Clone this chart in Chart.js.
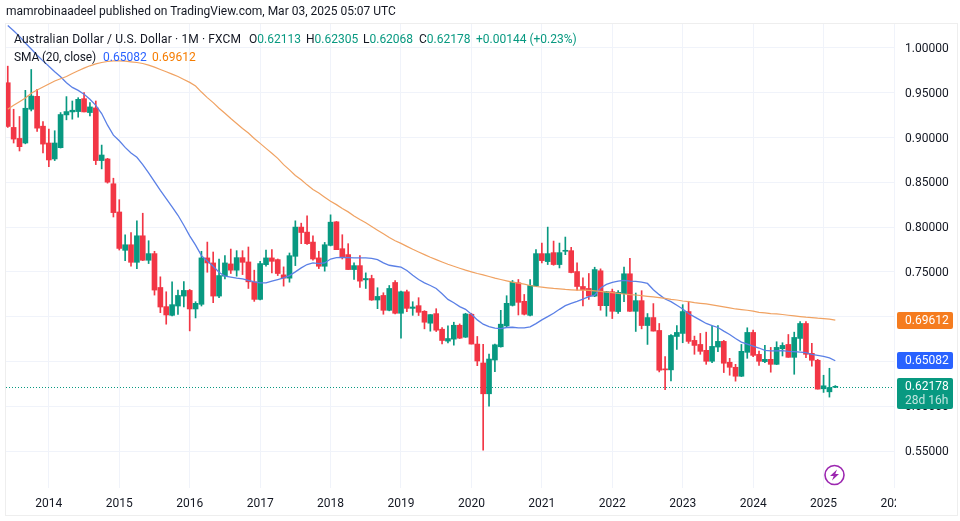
<!DOCTYPE html>
<html>
<head>
<meta charset="utf-8">
<title>AUD/USD monthly</title>
<script src="https://cdn.jsdelivr.net/npm/chart.js@4/dist/chart.umd.min.js"></script>
<style>
  html, body { margin: 0; padding: 0; background: #fff; }
  #wrap { position: relative; width: 960px; height: 521px; overflow: hidden; font-family: Roboto, sans-serif; font-size: 12px; color: #131722; }
  canvas { position: absolute; left: 0; top: 0; }
  .txt { position: absolute; white-space: pre; line-height: 16px; }
  .g { color: #089981; }
  .b { color: #2962ff; }
  .o { color: #f57c00; }
</style>
</head>
<body>
<div id="wrap">
  <canvas id="chart" width="960" height="521"></canvas>
  <div class="txt" style="left:6px;top:3px">mamrobinaadeel published on TradingView.com, Mar 03, 2025 05:07 UTC</div>
  <div class="txt" style="left:14px;top:31px;letter-spacing:.12px">Australian Dollar / U.S. Dollar · 1M · FXCM</div>
  <div class="txt" style="left:249px;top:31px">O<span class="g">0.62113</span></div>
  <div class="txt" style="left:306px;top:31px">H<span class="g">0.62305</span></div>
  <div class="txt" style="left:363px;top:31px">L<span class="g">0.62068</span></div>
  <div class="txt" style="left:419px;top:31px">C<span class="g">0.62178</span></div>
  <div class="txt g" style="left:476px;top:31px">+0.00144 (+0.23%)</div>
  <div class="txt" style="left:14px;top:49px;letter-spacing:-.15px">SMA (20, close)</div>
  <div class="txt b" style="left:103px;top:49px">0.65082</div>
  <div class="txt o" style="left:152px;top:49px">0.69612</div>
</div>
<script>
// monthly candles, Jun 2013 -> Mar 2025
const opens = [
  .9612,.9113,.8990,.8939,.9316,.9460,.9127,.8939,.8761,.8887,
  .9253,.9286,.9290,.9434,.9279,.9331,.8743,.8761,.8484,.8169,
  .7741,.7803,.7607,.7903,.7630,.7704,.7326,.7112,.7015,.7119,
  .7230,.7293,.7086,.7138,.7656,.7600,.7230,.7452,.7589,.7519,
  .7659,.7611,.7389,.7193,.7581,.7656,.7637,.7467,.7430,.7674,
  .8000,.7944,.7833,.7656,.7563,.7796,.8059,.7759,.7693,.7526,
  .7570,.7411,.7426,.7186,.7237,.7071,.7382,.7038,.7278,.7093,
  .7123,.7060,.6927,.7034,.6860,.6727,.6749,.6904,.6771,.7027,
  .6694,.6483,.6139,.6516,.6664,.6897,.7126,.7378,.7171,.7015,
  .7341,.7704,.7615,.7715,.7582,.7730,.7737,.7504,.7337,.7315,
  .7230,.7512,.7123,.7279,.7057,.7257,.7479,.7060,.7179,.6901,
  .6990,.6846,.6413,.6406,.6779,.6813,.7057,.6735,.6690,.6624,
  .6502,.6661,.6724,.6491,.6435,.6335,.6602,.6824,.6579,.6498,
  .6524,.6468,.6642,.6690,.6546,.6757,.6924,.6591,.6513,.6195,
  .6161,.62113
];
const highs = [
  .9797,.9316,.9235,.9527,.9760,.9538,.9179,.9094,.9076,.9279,
  .9457,.9408,.9445,.9501,.9390,.9408,.8916,.8768,.8546,.8306,
  .7914,.7940,.8070,.8155,.7848,.7730,.7445,.7278,.7389,.7297,
  .7393,.7304,.7167,.7730,.7833,.7722,.7644,.7681,.7755,.7737,
  .7737,.7778,.7519,.7618,.7744,.7748,.7644,.7556,.7711,.8070,
  .8044,.8125,.7903,.7730,.7829,.8137,.8063,.7915,.7815,.7600,
  .7681,.7489,.7463,.7323,.7267,.7348,.7404,.7285,.7297,.7167,
  .7212,.7067,.7023,.7089,.6878,.6897,.6938,.6919,.7038,.7038,
  .6779,.6690,.6582,.6693,.7071,.7234,.7404,.7415,.7248,.7415,
  .7748,.7822,.8000,.7844,.7822,.7889,.7774,.7600,.7433,.7482,
  .7552,.7534,.7283,.7308,.7290,.7553,.7652,.7264,.7290,.7035,
  .7146,.6924,.6554,.6801,.6901,.7134,.7172,.6783,.6813,.6827,
  .6894,.6901,.6735,.6535,.6468,.6690,.6876,.6850,.6616,.6679,
  .6657,.6720,.6709,.6801,.6827,.6946,.6946,.6702,.6524,.6346,
  .6424,.62305
];
const lows = [
  .9113,.8939,.8850,.8930,.9297,.9068,.8828,.8676,.8743,.8883,
  .9198,.9205,.9227,.9286,.9242,.8698,.8650,.8491,.8113,.7744,
  .7626,.7563,.7537,.7626,.7593,.7241,.7045,.6916,.7008,.7026,
  .7108,.6841,.6986,.7119,.7496,.7156,.7211,.7422,.7482,.7452,
  .7470,.7315,.7171,.7186,.7563,.7489,.7459,.7341,.7385,.7570,
  .7815,.7807,.7630,.7537,.7508,.7790,.7748,.7644,.7526,.7415,
  .7326,.7315,.7182,.7089,.7027,.7065,.7030,.6760,.7056,.7015,
  .7013,.6864,.6838,.6834,.6697,.6708,.6682,.6756,.6768,.6694,
  .6453,.5510,.6000,.6386,.6660,.6879,.7119,.7019,.7019,.7008,
  .7335,.7600,.7582,.7574,.7544,.7692,.7489,.7297,.7119,.7193,
  .7223,.7072,.7005,.6979,.7035,.7168,.7060,.6835,.6864,.6690,
  .6839,.6383,.6184,.6283,.6635,.6709,.6702,.6580,.6580,.6468,
  .6487,.6609,.6376,.6346,.6280,.6331,.6535,.6554,.6457,.6487,
  .6380,.6465,.6561,.6546,.6357,.6624,.6543,.6446,.6191,.6154,
  .6102,.62068
];
const closes = [
  .9124,.8983,.8898,.9327,.9464,.9105,.8927,.8750,.8939,.9257,
  .9290,.9305,.9427,.9286,.9342,.8743,.8805,.8502,.8162,.7762,
  .7803,.7607,.7903,.7630,.7704,.7297,.7108,.7019,.7134,.7237,
  .7293,.7086,.7149,.7656,.7600,.7230,.7459,.7600,.7519,.7659,
  .7607,.7389,.7193,.7593,.7656,.7618,.7482,.7430,.7681,.8000,
  .7940,.7815,.7644,.7563,.7803,.8055,.7748,.7667,.7526,.7570,
  .7397,.7426,.7186,.7226,.7071,.7315,.7038,.7278,.7093,.7108,
  .7049,.6938,.7023,.6849,.6734,.6756,.6904,.6760,.7030,.6694,
  .6505,.6139,.6527,.6686,.6916,.7149,.7385,.7160,.7027,.7348,
  .7704,.7626,.7704,.7582,.7715,.7741,.7493,.7337,.7300,.7230,
  .7526,.7123,.7279,.7060,.7271,.7479,.7060,.7179,.6901,.6990,
  .6839,.6402,.6406,.6790,.6824,.7057,.6724,.6679,.6613,.6502,
  .6668,.6724,.6480,.6435,.6335,.6613,.6824,.6568,.6502,.6524,
  .6468,.6657,.6679,.6546,.6768,.6924,.6580,.6513,.6191,.6228,
  .6209,.62178
];
// the two moving averages
const smaBlue = [
  1.0252,1.0193,1.0130,1.0056,.9989,.9919,.9856,.9797,.9734,.9679,
  .9612,.9560,.9527,.9483,.9427,.9360,.9268,.9138,.9027,.8964,
  .8890,.8828,.8779,.8698,.8606,.8509,.8410,.8317,.8225,.8132,
  .8021,.7903,.7799,.7681,.7622,.7563,.7496,.7452,.7441,.7430,
  .7422,.7404,.7389,.7378,.7378,.7397,.7415,.7433,.7459,.7500,
  .7545,.7582,.7600,.7593,.7600,.7644,.7659,.7663,.7659,.7656,
  .7656,.7656,.7652,.7637,.7600,.7574,.7563,.7552,.7515,.7463,
  .7415,.7378,.7348,.7315,.7256,.7193,.7156,.7112,.7082,.7026,
  .6964,.6916,.6890,.6871,.6867,.6879,.6882,.6875,.6875,.6886,
  .6923,.6964,.7001,.7038,.7082,.7123,.7149,.7171,.7197,.7223,
  .7241,.7320,.7360,.7382,.7397,.7405,.7397,.7394,.7386,.7371,
  .7301,.7246,.7197,.7168,.7127,.7086,.7035,.6998,.6961,.6924,
  .6901,.6879,.6839,.6801,.6757,.6716,.6694,.6672,.6650,.6624,
  .6617,.6617,.6620,.6613,.6609,.6605,.6598,.6580,.6568,.6557,
  .6539,.65082
];
const smaOrange = [
  .9316,.9360,.9401,.9442,.9494,.9531,.9564,.9597,.9631,.9656,
  .9682,.9716,.9745,.9775,.9801,.9823,.9838,.9849,.9856,.9856,
  .9853,.9845,.9838,.9827,.9808,.9786,.9760,.9734,.9708,.9682,
  .9649,.9616,.9575,.9508,.9446,.9390,.9327,.9272,.9212,.9157,
  .9101,.9050,.8990,.8935,.8879,.8824,.8768,.8698,.8639,.8576,
  .8528,.8472,.8421,.8380,.8333,.8288,.8251,.8207,.8170,.8125,
  .8085,.8048,.8007,.7966,.7926,.7885,.7848,.7818,.7785,.7752,
  .7722,.7693,.7663,.7637,.7611,.7585,.7563,.7541,.7519,.7500,
  .7482,.7467,.7448,.7430,.7415,.7400,.7385,.7374,.7363,.7348,
  .7337,.7330,.7322,.7315,.7311,.7304,.7300,.7297,.7297,.7293,
  .7289,.7283,.7275,.7268,.7260,.7253,.7246,.7242,.7234,.7227,
  .7220,.7212,.7205,.7194,.7186,.7175,.7168,.7157,.7149,.7142,
  .7131,.7120,.7109,.7098,.7086,.7079,.7072,.7061,.7049,.7042,
  .7035,.7031,.7024,.7016,.7009,.7001,.6994,.6990,.6983,.6979,
  .6972,.69612
];
const years = ['2014','2015','2016','2017','2018','2019','2020','2021','2022','2023','2024','2025','2026'];
const priceTicks = [0.55,0.60,0.65,0.70,0.75,0.80,0.85,0.90,0.95,1.00];
const hiddenTicks = [0.65,0.70]; // sit under the price boxes
const lastClose = 0.62178;
const blueLast = 0.65082;
const orangeLast = 0.69612;

const GREEN = '#089981', RED = '#f23645';
const candleColors = closes.map((c, i) => c >= opens[i] ? GREEN : RED);
const janIndex = years.map((y, k) => 7 + k * 12); // first candle is Jun 2013

// caixas de preco, linha pontilhada, moldura, icone
const overlayPlugin = {
  id: 'overlay',
  beforeDatasetsDraw(chart) {
    const ctx = chart.ctx, a = chart.chartArea, y = chart.scales.y.getPixelForValue(lastClose);
    ctx.save();
    ctx.strokeStyle = GREEN;
    ctx.lineWidth = 1;
    ctx.setLineDash([1, 2]);
    ctx.beginPath();
    ctx.moveTo(a.left, Math.round(y) + 0.5);
    ctx.lineTo(a.right, Math.round(y) + 0.5);
    ctx.stroke();
    ctx.restore();
  },
  afterDraw(chart) {
    const ctx = chart.ctx, yScale = chart.scales.y;
    const box = (value, color, h, label, sub) => {
      const cy = yScale.getPixelForValue(value);
      const top = Math.round(cy - 8.5);
      ctx.fillStyle = color;
      ctx.beginPath();
      ctx.roundRect(897, top, 56, h, 2);
      ctx.fill();
      ctx.fillStyle = '#fff';
      ctx.font = '12px Roboto';
      ctx.textAlign = 'left';
      ctx.textBaseline = 'middle';
      ctx.fillText(label, 905, top + 9);
      if (sub) {
        ctx.fillStyle = 'rgba(255,255,255,0.75)';
        ctx.fillText(sub, 905, top + 23);
      }
    };
    box(orangeLast, '#f57c1f', 17, orangeLast.toFixed(5));
    box(blueLast, '#2962ff', 17, blueLast.toFixed(5));
    box(lastClose, GREEN, 31, lastClose.toFixed(5), '28d 16h');

    // cut the 2026 label at the pane edge
    ctx.fillStyle = '#fff';
    ctx.fillRect(896, 494, 30, 20);

    // frame
    ctx.strokeStyle = '#eeeeee';
    ctx.lineWidth = 1;
    ctx.strokeRect(5.5, 23.5, 952, 492);

    // lightning badge
    ctx.save();
    ctx.translate(834.5, 475);
    ctx.strokeStyle = '#9c27b0';
    ctx.lineWidth = 1.6;
    ctx.beginPath();
    ctx.arc(0, 0, 9.5, 0, Math.PI * 2);
    ctx.stroke();
    ctx.fillStyle = '#9c27b0';
    ctx.beginPath();
    ctx.moveTo(2.5, -5.5);
    ctx.lineTo(-4.5, 1);
    ctx.lineTo(-0.8, 1);
    ctx.lineTo(-2.5, 5.5);
    ctx.lineTo(4.5, -1);
    ctx.lineTo(0.8, -1);
    ctx.closePath();
    ctx.fill();
    ctx.restore();
  }
};

new Chart(document.getElementById('chart'), {
  type: 'bar',
  data: {
    datasets: [
      {
        type: 'line',
        data: smaOrange.map((v, i) => ({ x: i, y: v })),
        borderColor: '#f0a262',
        borderWidth: 1.2,
        pointRadius: 0,
        order: 0
      },
      {
        type: 'line',
        data: smaBlue.map((v, i) => ({ x: i, y: v })),
        borderColor: '#5b80e6',
        borderWidth: 1.3,
        pointRadius: 0,
        order: 0
      },
      {
        data: opens.map((o, i) => ({ x: i, y: [o, closes[i]] })),
        backgroundColor: candleColors,
        barThickness: 5,
        minBarLength: 1,
        grouped: false,
        order: 1
      },
      {
        data: lows.map((l, i) => ({ x: i, y: [l, highs[i]] })),
        backgroundColor: candleColors,
        barThickness: 1,
        grouped: false,
        order: 2
      }
    ]
  },
  options: {
    responsive: false,
    animation: false,
    layout: { padding: { left: 6, top: 23, right: 0, bottom: 0 } },
    plugins: { legend: { display: false }, tooltip: { enabled: false } },
    scales: {
      x: {
        type: 'linear',
        offset: false,
        min: -0.3,
        max: 151,
        grid: { color: '#f0f3fa', offset: false, drawTicks: false },
        border: { display: false },
        afterBuildTicks: scale => { scale.ticks = janIndex.map(v => ({ value: v })); },
        afterFit: scale => { scale.height = 33; },
        ticks: {
          autoSkip: false,
          maxRotation: 0,
          padding: 9,
          color: '#131722',
          font: { family: 'Roboto', size: 12 },
          callback: value => years[janIndex.indexOf(value)]
        }
      },
      y: {
        position: 'right',
        min: 0.5087,
        max: 1.0279,
        grid: { color: '#f0f3fa', drawTicks: false },
        border: { display: false },
        afterBuildTicks: scale => { scale.ticks = priceTicks.map(v => ({ value: v })); },
        afterFit: scale => { scale.width = 66; },
        ticks: {
          padding: 11,
          labelOffset: 1,
          color: '#131722',
          font: { family: 'Roboto', size: 12 },
          callback: value => hiddenTicks.includes(value) ? '' : value.toFixed(5)
        }
      }
    }
  },
  plugins: [overlayPlugin]
});
</script>
</body>
</html>
